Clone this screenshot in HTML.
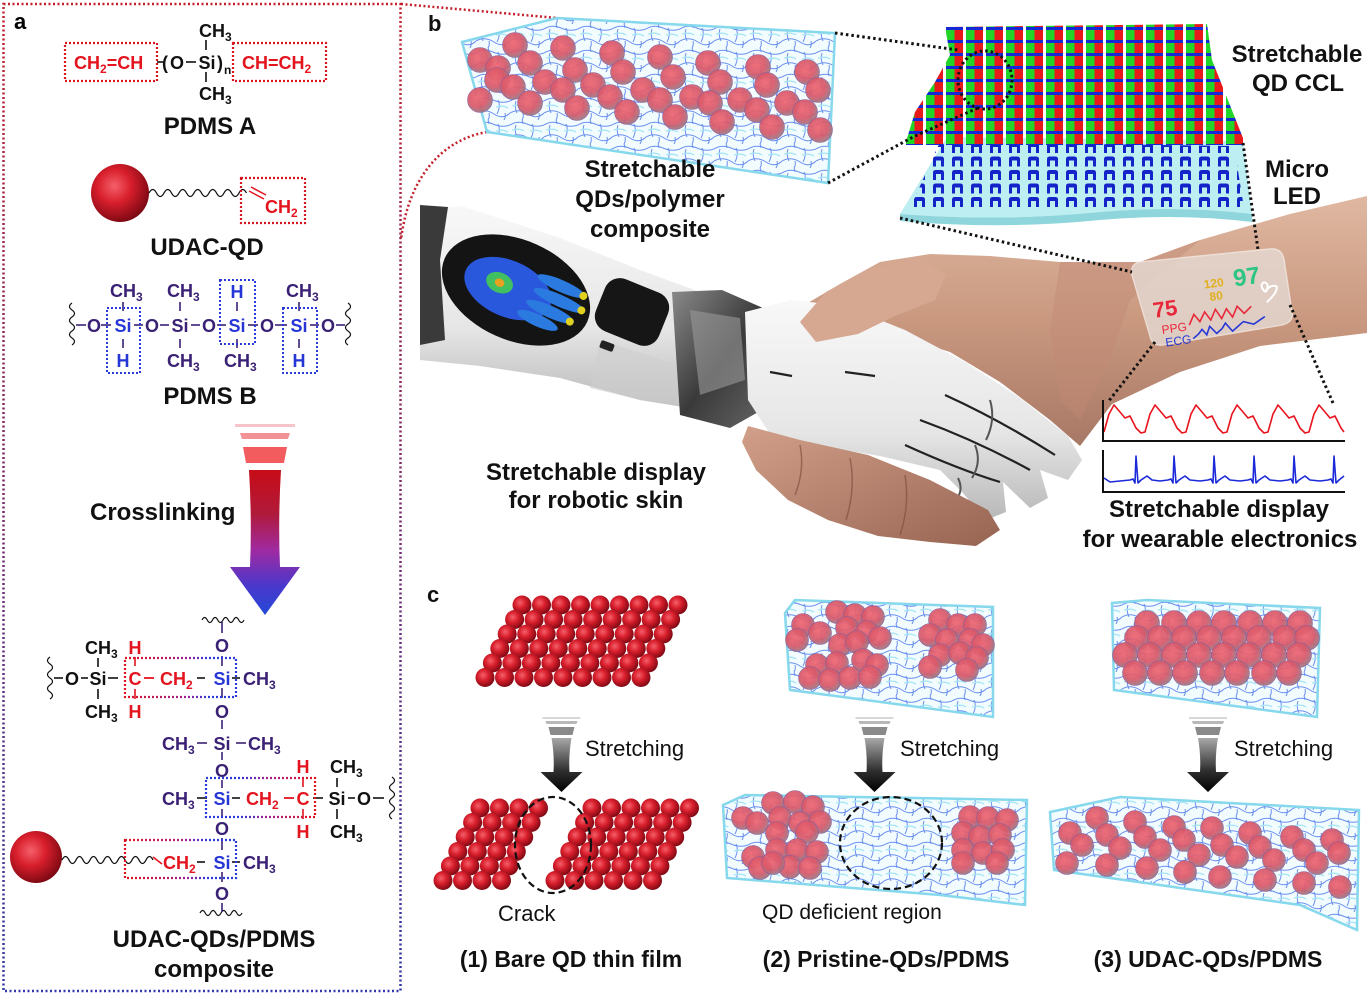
<!DOCTYPE html>
<html><head><meta charset="utf-8">
<style>
html,body{margin:0;padding:0;background:#fff;}
svg{display:block;font-family:"Liberation Sans",Arial,sans-serif;}
.b{font-weight:bold;}
</style></head>
<body>
<svg width="1367" height="995" viewBox="0 0 1367 995" xmlns="http://www.w3.org/2000/svg" xmlns:xlink="http://www.w3.org/1999/xlink">
<defs>
  <linearGradient id="borderG" gradientUnits="userSpaceOnUse" x1="0" y1="0" x2="0" y2="995">
    <stop offset="0" stop-color="#c4202c"/><stop offset="0.5" stop-color="#7a2a6a"/><stop offset="1" stop-color="#3038a8"/>
  </linearGradient>
  <radialGradient id="qd" cx="0.4" cy="0.38" r="0.65">
    <stop offset="0" stop-color="#f4606a"/><stop offset="0.45" stop-color="#d81e2c"/><stop offset="1" stop-color="#7a0812"/>
  </radialGradient>
  <radialGradient id="cq" cx="0.42" cy="0.4" r="0.62">
    <stop offset="0" stop-color="#f06672"/><stop offset="0.6" stop-color="#d9596a"/><stop offset="1" stop-color="#9a7a86"/>
  </radialGradient>
  <linearGradient id="rb" x1="0" y1="0" x2="1" y2="0">
    <stop offset="0" stop-color="#e0141e"/><stop offset="0.55" stop-color="#a02090"/><stop offset="0.75" stop-color="#2a3ad8"/><stop offset="1" stop-color="#2a3ad8"/>
  </linearGradient>
  <linearGradient id="br" x1="0" y1="0" x2="1" y2="0">
    <stop offset="0" stop-color="#2a3ad8"/><stop offset="0.3" stop-color="#2a3ad8"/><stop offset="0.55" stop-color="#a02090"/><stop offset="1" stop-color="#e0141e"/>
  </linearGradient>
  <linearGradient id="crossG" x1="0" y1="0" x2="0" y2="1">
    <stop offset="0" stop-color="#c80c18"/><stop offset="0.3" stop-color="#b01a3a"/><stop offset="0.55" stop-color="#a02aa0"/><stop offset="0.8" stop-color="#4a38cc"/><stop offset="1" stop-color="#2448d8"/>
  </linearGradient>
  <linearGradient id="grayG" x1="0" y1="0" x2="0" y2="1">
    <stop offset="0" stop-color="#a8a8a8"/><stop offset="0.6" stop-color="#303030"/><stop offset="1" stop-color="#000"/>
  </linearGradient>
  <linearGradient id="skin" x1="0" y1="0" x2="0" y2="1">
    <stop offset="0" stop-color="#e0b8a2"/><stop offset="0.5" stop-color="#c9987f"/><stop offset="1" stop-color="#a87866"/>
  </linearGradient>
  <linearGradient id="skin2" x1="0" y1="0" x2="1" y2="1">
    <stop offset="0" stop-color="#d2a08a"/><stop offset="1" stop-color="#976452"/>
  </linearGradient>
  <linearGradient id="robo" x1="0" y1="0" x2="0" y2="1">
    <stop offset="0" stop-color="#f8f8f8"/><stop offset="0.6" stop-color="#e6e6e6"/><stop offset="1" stop-color="#b8b8b8"/>
  </linearGradient>
  <linearGradient id="metal" x1="0" y1="0" x2="1" y2="1">
    <stop offset="0" stop-color="#8a8a8a"/><stop offset="0.5" stop-color="#3a3a3a"/><stop offset="1" stop-color="#6a6a6a"/>
  </linearGradient>
  <pattern id="mesh" width="34" height="24" patternUnits="userSpaceOnUse">
    <rect width="34" height="24" fill="#f2fcfe"/>
    <path d="M0,5 Q8,0 17,4 T34,5 M0,17 Q9,12 18,18 T34,17 M6,5 Q4,11 7,17 M22,4 Q25,10 21,18 M13,17 Q14,21 12,24 M29,17 Q30,21 28,24 M12,0 Q13,2 13,4" fill="none" stroke="#6a8ff0" stroke-width="1"/>
    <path d="M2,10 Q10,8 14,11 M20,11 Q27,9 32,12" stroke="#a8e6f4" stroke-width="1.4" fill="none"/>
  </pattern>
  <pattern id="ccl" width="20" height="13" patternUnits="userSpaceOnUse" x="905" y="27">
    <rect x="1" y="0" width="17" height="3" fill="#1428d8"/>
    <rect x="1" y="3" width="8.5" height="10" fill="#22d428"/>
    <rect x="9.5" y="3" width="8.5" height="10" fill="#e81a1a"/>
  </pattern>
  <pattern id="led" width="19" height="13.5" patternUnits="userSpaceOnUse" x="930" y="141">
    <path d="M3,12 L3,4.5 Q3,2 6,2 L11,2 Q14,2 14,4.5 L14,12 L11,12 L11,6 L6,6 L6,12 Z" fill="#1424c8"/>
  </pattern>
  <circle id="s9" r="9.5" fill="url(#qd)"/>
  <g id="row9"><use href="#s9" x="0"/><use href="#s9" x="19.5"/><use href="#s9" x="39"/><use href="#s9" x="58.5"/><use href="#s9" x="78"/><use href="#s9" x="97.5"/><use href="#s9" x="117"/><use href="#s9" x="136.5"/><use href="#s9" x="156"/></g>
  <g id="row6"><use href="#s9" x="0"/><use href="#s9" x="19.5"/><use href="#s9" x="39"/><use href="#s9" x="58.5"/><use href="#s9" x="78"/><use href="#s9" x="97.5"/></g>
  <g id="row4"><use href="#s9" x="0"/><use href="#s9" x="19.5"/><use href="#s9" x="39"/><use href="#s9" x="58.5"/></g>
  <circle id="c12" r="12.5" fill="url(#cq)" stroke="#8a5a9a" stroke-width="0.6" opacity="0.93"/>
  <circle id="c11" r="11.5" fill="url(#cq)" stroke="#8a5a9a" stroke-width="0.6" opacity="0.93"/>
  <g id="sarrow">
    <rect x="-19" y="0" width="38" height="2" fill="#d8d8d8"/>
    <polygon points="-16,4 16,4 15,7 -15,7" fill="#b8b8b8"/>
    <polygon points="-13,10 13,10 11,18 -11,18" fill="#8a8a8a"/>
    <path d="M-10,21 L10,21 Q7,38 8,55 L21,55 L0,75 L-21,55 L-8,55 Q-7,38 -10,21 Z" fill="url(#grayG)"/>
  </g>
</defs>

<!-- ================= PANEL A ================= -->
<rect x="3.5" y="4" width="397" height="987" fill="none" stroke="url(#borderG)" stroke-width="2.5" stroke-dasharray="2 2.5"/>
<text x="14" y="29" class="b" font-size="22">a</text>

<!-- PDMS A -->
<g font-size="18" class="b">
  <rect x="65" y="43" width="92" height="38" fill="none" stroke="#d8141e" stroke-width="2.2" stroke-dasharray="2 2"/>
  <text x="74" y="69" fill="#e3141e">CH<tspan font-size="12" dy="4">2</tspan><tspan dy="-4">=CH</tspan></text>
  <line x1="157" y1="62" x2="163" y2="62" stroke="#111" stroke-width="1.6"/>
  <text x="162" y="69" fill="#111">(</text>
  <text x="177" y="69" fill="#111" text-anchor="middle">O</text>
  <line x1="186" y1="62" x2="196" y2="62" stroke="#111" stroke-width="1.6"/>
  <text x="207" y="69" fill="#111" text-anchor="middle">Si</text>
  <text x="217" y="69" fill="#111">)</text>
  <text x="224" y="74" fill="#111" font-size="12">n</text>
  <text x="199" y="37" fill="#111">CH<tspan font-size="12" dy="4">3</tspan></text>
  <line x1="206" y1="40" x2="206" y2="50" stroke="#111" stroke-width="1.6"/>
  <line x1="206" y1="72" x2="206" y2="82" stroke="#111" stroke-width="1.6"/>
  <text x="199" y="100" fill="#111">CH<tspan font-size="12" dy="4">3</tspan></text>
  <rect x="233" y="43" width="93" height="38" fill="none" stroke="#d8141e" stroke-width="2.2" stroke-dasharray="2 2"/>
  <text x="242" y="69" fill="#e3141e">CH=CH<tspan font-size="12" dy="4">2</tspan></text>
</g>
<text x="210" y="134" class="b" font-size="24" text-anchor="middle" fill="#111">PDMS A</text>

<!-- UDAC-QD -->
<circle cx="120" cy="193" r="29" fill="url(#qd)"/>
<path d="M149,193 q3.75,-7 7.5,0 t7.5,0 t7.5,0 t7.5,0 t7.5,0 t7.5,0 t7.5,0 t7.5,0 t7.5,0 t7.5,0 t7.5,0 t7.5,0 t7.5,0" fill="none" stroke="#111" stroke-width="1.3"/>
<line x1="249" y1="191" x2="264" y2="199" stroke="#e3141e" stroke-width="1.5"/>
<line x1="251" y1="187" x2="266" y2="195" stroke="#e3141e" stroke-width="1.5"/>
<rect x="241" y="178" width="64" height="45" fill="none" stroke="#d8141e" stroke-width="2.2" stroke-dasharray="2 2"/>
<text x="265" y="213" class="b" font-size="18" fill="#e3141e">CH<tspan font-size="12" dy="4">2</tspan></text>
<text x="207" y="255" class="b" font-size="24" text-anchor="middle" fill="#111">UDAC-QD</text>

<!-- PDMS B -->
<g class="b" font-size="18">
  <path d="M72,303 q-5,3.5 0,7 t0,7 t0,7 t0,7 t0,7 t0,7" fill="none" stroke="#111" stroke-width="1.2"/>
  <path d="M348,303 q5,3.5 0,7 t0,7 t0,7 t0,7 t0,7 t0,7" fill="none" stroke="#111" stroke-width="1.2"/>
  <g stroke="#3b2175" stroke-width="1.6">
    <line x1="76" y1="325" x2="86" y2="325"/><line x1="101" y1="325" x2="111" y2="325"/>
    <line x1="134" y1="325" x2="143" y2="325"/><line x1="160" y1="325" x2="169" y2="325"/>
    <line x1="191" y1="325" x2="200" y2="325"/><line x1="217" y1="325" x2="226" y2="325"/>
    <line x1="248" y1="325" x2="258" y2="325"/><line x1="275" y1="325" x2="287" y2="325"/>
    <line x1="310" y1="325" x2="319" y2="325"/><line x1="336" y1="325" x2="345" y2="325"/>
    <line x1="123" y1="302" x2="123" y2="311"/><line x1="123" y1="339" x2="123" y2="348"/>
    <line x1="180" y1="302" x2="180" y2="311"/><line x1="180" y1="339" x2="180" y2="348"/>
    <line x1="237" y1="302" x2="237" y2="311"/><line x1="237" y1="339" x2="237" y2="348"/>
    <line x1="299" y1="302" x2="299" y2="311"/><line x1="299" y1="339" x2="299" y2="348"/>
  </g>
  <g text-anchor="middle">
    <text x="94" y="332" fill="#3b2175">O</text>
    <text x="123" y="332" fill="#2636d6">Si</text>
    <text x="152" y="332" fill="#3b2175">O</text>
    <text x="180" y="332" fill="#3b2175">Si</text>
    <text x="209" y="332" fill="#3b2175">O</text>
    <text x="237" y="332" fill="#2636d6">Si</text>
    <text x="267" y="332" fill="#3b2175">O</text>
    <text x="299" y="332" fill="#2636d6">Si</text>
    <text x="328" y="332" fill="#3b2175">O</text>
    <text x="237" y="298" fill="#2636d6">H</text>
    <text x="123" y="367" fill="#2636d6">H</text>
    <text x="299" y="367" fill="#2636d6">H</text>
  </g>
  <text x="110" y="297" fill="#3b2175">CH<tspan font-size="12" dy="4">3</tspan></text>
  <text x="167" y="297" fill="#3b2175">CH<tspan font-size="12" dy="4">3</tspan></text>
  <text x="286" y="297" fill="#3b2175">CH<tspan font-size="12" dy="4">3</tspan></text>
  <text x="167" y="367" fill="#3b2175">CH<tspan font-size="12" dy="4">3</tspan></text>
  <text x="224" y="367" fill="#3b2175">CH<tspan font-size="12" dy="4">3</tspan></text>
  <g fill="none" stroke="#2a3ad8" stroke-width="2" stroke-dasharray="2 2">
    <rect x="107" y="308" width="33" height="65"/>
    <rect x="220" y="280" width="35" height="64"/>
    <rect x="283" y="308" width="34" height="65"/>
  </g>
</g>
<text x="210" y="404" class="b" font-size="24" text-anchor="middle" fill="#111">PDMS B</text>

<!-- Crosslinking arrow -->
<g transform="translate(265,424)">
  <rect x="-30" y="0" width="60" height="3" fill="#f6c4c8"/>
  <polygon points="-25,9 25,9 23,15 -23,15" fill="#f29296"/>
  <polygon points="-22,23 22,23 19,39 -19,39" fill="#f25c5e"/>
  <path d="M-16,46 L16,46 Q13,95 15,143 L35,143 L0,191 L-35,143 L-15,143 Q-13,95 -16,46 Z" fill="url(#crossG)"/>
</g>
<text x="90" y="520" class="b" font-size="24" fill="#111">Crosslinking</text>

<!-- Crosslinked structure -->
<g class="b" font-size="18">
  <path d="M202,620 q2.6,-5 5.25,0 t5.25,0 t5.25,0 t5.25,0 t5.25,0 t5.25,0 t5.25,0 t5.25,0" fill="none" stroke="#111" stroke-width="1.2"/>
  <path d="M200,913 q2.6,-5 5.25,0 t5.25,0 t5.25,0 t5.25,0 t5.25,0 t5.25,0 t5.25,0 t5.25,0" fill="none" stroke="#111" stroke-width="1.2"/>
  <path d="M50,657 q-5,3.5 0,7 t0,7 t0,7 t0,7 t0,7 t0,7" fill="none" stroke="#111" stroke-width="1.2"/>
  <path d="M392,777 q5,3.5 0,7 t0,7 t0,7 t0,7 t0,7 t0,7" fill="none" stroke="#111" stroke-width="1.2"/>
  <g stroke="#3b2175" stroke-width="1.6">
    <line x1="222" y1="622" x2="222" y2="633"/>
    <line x1="222" y1="656" x2="222" y2="666"/>
    <line x1="222" y1="688" x2="222" y2="698"/>
    <line x1="222" y1="720" x2="222" y2="729"/>
    <line x1="222" y1="752" x2="222" y2="760"/>
    <line x1="222" y1="780" x2="222" y2="788"/>
    <line x1="222" y1="809" x2="222" y2="818"/>
    <line x1="222" y1="838" x2="222" y2="850"/>
    <line x1="222" y1="872" x2="222" y2="882"/>
    <line x1="222" y1="903" x2="222" y2="912"/>
  </g>
  <!-- row1 -->
  <g stroke="#111" stroke-width="1.6">
    <line x1="54" y1="678" x2="63" y2="678"/><line x1="81" y1="678" x2="88" y2="678"/>
    <line x1="108" y1="678" x2="118" y2="678"/><line x1="98" y1="658" x2="98" y2="667"/><line x1="98" y1="689" x2="98" y2="699"/>
    <line x1="197" y1="678" x2="205" y2="678"/><line x1="232" y1="678" x2="240" y2="678"/>
  </g>
  <line x1="144" y1="678" x2="154" y2="678" stroke="#e3141e" stroke-width="1.8"/>
  <line x1="135" y1="657" x2="135" y2="666" stroke="#e3141e" stroke-width="1.6"/>
  <line x1="135" y1="689" x2="135" y2="699" stroke="#e3141e" stroke-width="1.6"/>
  <text x="72" y="685" fill="#111" text-anchor="middle">O</text>
  <text x="98" y="685" fill="#111" text-anchor="middle">Si</text>
  <text x="85" y="654" fill="#111">CH<tspan font-size="12" dy="4">3</tspan></text>
  <text x="85" y="718" fill="#111">CH<tspan font-size="12" dy="4">3</tspan></text>
  <text x="135" y="654" fill="#e3141e" text-anchor="middle">H</text>
  <text x="135" y="718" fill="#e3141e" text-anchor="middle">H</text>
  <text x="135" y="685" fill="#e3141e" text-anchor="middle">C</text>
  <text x="160" y="685" fill="#e3141e">CH<tspan font-size="12" dy="4">2</tspan></text>
  <text x="222" y="685" fill="#2636d6" text-anchor="middle">Si</text>
  <text x="243" y="685" fill="#3b2175">CH<tspan font-size="12" dy="4">3</tspan></text>
  <rect x="125" y="658" width="111" height="39" fill="none" stroke="url(#rb)" stroke-width="2.2" stroke-dasharray="2 2"/>
  <text x="222" y="652" fill="#3b2175" text-anchor="middle">O</text>
  <text x="222" y="718" fill="#3b2175" text-anchor="middle">O</text>
  <!-- row2 -->
  <g stroke="#3b2175" stroke-width="1.6"><line x1="197" y1="743" x2="207" y2="743"/><line x1="236" y1="743" x2="246" y2="743"/></g>
  <text x="162" y="750" fill="#3b2175">CH<tspan font-size="12" dy="4">3</tspan></text>
  <text x="222" y="750" fill="#3b2175" text-anchor="middle">Si</text>
  <text x="248" y="750" fill="#3b2175">CH<tspan font-size="12" dy="4">3</tspan></text>
  <text x="222" y="777" fill="#3b2175" text-anchor="middle">O</text>
  <!-- row3 -->
  <g stroke="#111" stroke-width="1.6">
    <line x1="197" y1="798" x2="207" y2="798"/><line x1="232" y1="798" x2="240" y2="798"/>
    <line x1="313" y1="798" x2="323" y2="798"/><line x1="348" y1="798" x2="355" y2="798"/><line x1="373" y1="798" x2="384" y2="798"/>
    <line x1="337" y1="778" x2="337" y2="787"/><line x1="337" y1="809" x2="337" y2="819"/>
  </g>
  <line x1="284" y1="798" x2="294" y2="798" stroke="#e3141e" stroke-width="1.8"/>
  <line x1="303" y1="777" x2="303" y2="787" stroke="#e3141e" stroke-width="1.6"/>
  <line x1="303" y1="809" x2="303" y2="819" stroke="#e3141e" stroke-width="1.6"/>
  <text x="162" y="805" fill="#3b2175">CH<tspan font-size="12" dy="4">3</tspan></text>
  <text x="222" y="805" fill="#2636d6" text-anchor="middle">Si</text>
  <text x="246" y="805" fill="#e3141e">CH<tspan font-size="12" dy="4">2</tspan></text>
  <text x="303" y="805" fill="#e3141e" text-anchor="middle">C</text>
  <text x="303" y="773" fill="#e3141e" text-anchor="middle">H</text>
  <text x="303" y="838" fill="#e3141e" text-anchor="middle">H</text>
  <text x="337" y="805" fill="#111" text-anchor="middle">Si</text>
  <text x="364" y="805" fill="#111" text-anchor="middle">O</text>
  <text x="330" y="773" fill="#111">CH<tspan font-size="12" dy="4">3</tspan></text>
  <text x="330" y="838" fill="#111">CH<tspan font-size="12" dy="4">3</tspan></text>
  <rect x="206" y="778" width="109" height="39" fill="none" stroke="url(#br)" stroke-width="2.2" stroke-dasharray="2 2"/>
  <text x="222" y="835" fill="#3b2175" text-anchor="middle">O</text>
  <!-- row4 -->
  <circle cx="36" cy="857" r="26" fill="url(#qd)"/>
  <path d="M62,860 q3.5,-7 7,0 t7,0 t7,0 t7,0 t7,0 t7,0 t7,0 t7,0 t7,0 t7,0 t7,0 t7,0 t7,0" fill="none" stroke="#111" stroke-width="1.3"/>
  <line x1="153" y1="857" x2="162" y2="864" stroke="#e3141e" stroke-width="1.6"/>
  <g stroke="#111" stroke-width="1.6"><line x1="197" y1="862" x2="205" y2="862"/><line x1="232" y1="862" x2="240" y2="862"/></g>
  <text x="163" y="869" fill="#e3141e">CH<tspan font-size="12" dy="4">2</tspan></text>
  <text x="222" y="869" fill="#2636d6" text-anchor="middle">Si</text>
  <text x="243" y="869" fill="#3b2175">CH<tspan font-size="12" dy="4">3</tspan></text>
  <rect x="125" y="840" width="111" height="38" fill="none" stroke="url(#rb)" stroke-width="2.2" stroke-dasharray="2 2"/>
  <text x="222" y="900" fill="#3b2175" text-anchor="middle">O</text>
</g>
<text x="214" y="947" class="b" font-size="24" text-anchor="middle" fill="#111">UDAC-QDs/PDMS</text>
<text x="214" y="977" class="b" font-size="24" text-anchor="middle" fill="#111">composite</text>

<!-- ================= PANEL B ================= -->
<text x="428" y="31" class="b" font-size="22" fill="#111">b</text>
<path d="M401,4 L557,18" fill="none" stroke="#c4202c" stroke-width="2.5" stroke-dasharray="2 2.5"/>
<path d="M487,132 C440,140 408,180 401,240" fill="none" stroke="#c4202c" stroke-width="2.5" stroke-dasharray="2 2.5"/>

<!-- Photo: human arm -->
<path d="M1367,196 L1290,214 L1200,240 L1140,262 L1060,262 L990,256 L930,254 L880,262 L840,284 L806,304 L798,324 L812,336 L850,332 L900,336 L950,352 L1000,382 L1050,420 L1080,446 L1112,404 L1180,372 L1260,346 L1367,333 Z" fill="url(#skin)"/>
<path d="M1060,262 L1140,262 L1200,240 L1130,300 L1110,360 L1080,420 L1060,400 L1050,330 Z" fill="#c08a76" opacity="0.45"/>
<!-- robot forearm -->
<path d="M420,210 L462,206 L560,238 L640,270 L700,292 L702,410 L640,400 L560,378 L480,366 L420,360 Z" fill="url(#robo)"/>
<path d="M420,205 L448,207 L440,260 L445,340 L420,345 Z" fill="#3a3a3a"/>
<path d="M600,340 L700,372 L702,410 L640,400 L590,388 Z" fill="#cfcfcf" opacity="0.6"/>
<g transform="rotate(24 516 290)">
  <ellipse cx="516" cy="290" rx="78" ry="50" fill="#141414"/>
  <ellipse cx="508" cy="292" rx="46" ry="28" fill="#2a58dc"/>
  <ellipse cx="556" cy="268" rx="26" ry="6" fill="#2a7ae0"/>
  <ellipse cx="560" cy="282" rx="28" ry="6" fill="#2a7ae0"/>
  <ellipse cx="556" cy="296" rx="26" ry="6" fill="#2a7ae0"/>
  <ellipse cx="548" cy="309" rx="22" ry="6" fill="#2a7ae0"/>
  <ellipse cx="498" cy="290" rx="14" ry="10" fill="#40c060"/>
  <circle cx="580" cy="268" r="4" fill="#e0d020"/><circle cx="584" cy="282" r="4" fill="#e0d020"/><circle cx="578" cy="297" r="4" fill="#e0d020"/>
  <ellipse cx="498" cy="290" rx="5" ry="4" fill="#e8a020"/>
</g>
<g transform="rotate(22 632 312)">
  <rect x="598" y="284" width="68" height="56" rx="16" fill="#161616"/>
</g>
<rect x="600" y="342" width="14" height="8" rx="2" fill="#222" transform="rotate(20 607 346)"/>
<!-- mechanical wrist -->
<path d="M672,292 L722,290 L772,312 L776,402 L730,428 L680,415 Z" fill="url(#metal)"/>
<path d="M690,310 L740,318 L745,380 L700,395 Z" fill="#9a9a9a" opacity="0.6"/>
<!-- robot hand -->
<path d="M745,312 L792,300 L845,306 L905,330 L965,362 L1020,398 L1068,436 L1082,460 L1068,480 L1040,470 L1048,498 L1030,508 L1003,482 L1006,512 L986,520 L962,492 L940,470 L880,456 L820,446 L770,434 L748,400 Z" fill="url(#robo)"/>
<g stroke="#222" stroke-width="2.2" fill="none">
  <line x1="770" y1="372" x2="792" y2="376"/>
  <line x1="845" y1="372" x2="875" y2="376"/>
  <path d="M920,420 Q975,440 1030,470"/>
  <path d="M905,445 Q960,470 1000,482"/>
  <path d="M945,395 Q1000,420 1055,455"/>
</g>
<g stroke="#555" stroke-width="2" fill="none">
  <path d="M990,400 Q996,420 986,440"/><path d="M975,445 Q982,462 972,478"/><path d="M958,478 Q964,490 956,500"/>
</g>
<!-- human thumb -->
<path d="M800,322 L826,292 L870,268 L920,258 L946,274 L935,300 L895,316 L858,334 L816,342 Z" fill="#d6a892"/>
<!-- human fingers below -->
<path d="M748,426 L800,440 L868,455 L930,480 L988,510 L1000,530 L976,546 L930,542 L878,536 L828,520 L788,500 L756,470 L742,442 Z" fill="url(#skin2)"/>
<g stroke="#7a4a3a" stroke-width="1.5" fill="none" opacity="0.6">
  <path d="M800,445 Q805,470 795,495"/><path d="M850,458 Q856,488 846,520"/><path d="M905,475 Q910,505 900,535"/>
</g>
<!-- wrist display -->
<path d="M1140,262 L1270,249 Q1282,248 1284,260 L1292,312 Q1294,322 1282,325 L1162,345 Q1152,346 1150,336 L1132,275 Q1130,264 1140,262 Z" fill="#e6dcd6" opacity="0.78" stroke="#f4eeea" stroke-width="1.5"/>
<g transform="rotate(-8 1210 300)">
  <text x="1152" y="310" class="b" font-size="22" fill="#e8283a">75</text>
  <text x="1206" y="288" font-size="12" fill="#e0b020" class="b">120</text>
  <text x="1210" y="301" font-size="12" fill="#e0b020" class="b">80</text>
  <text x="1236" y="290" class="b" font-size="24" fill="#2ec484">97</text>
  <text x="1158" y="327" font-size="12" fill="#e8283a">PPG</text>
  <text x="1160" y="340" font-size="12" fill="#2638d8">ECG</text>
  <polyline points="1186,322 1192,312 1197,320 1203,311 1208,320 1214,310 1219,320 1225,311 1230,320 1236,310 1242,318 1250,312" fill="none" stroke="#e8283a" stroke-width="1.6"/>
  <polyline points="1188,336 1194,332 1198,328 1202,334 1206,326 1212,334 1218,330 1222,325 1228,334 1234,330 1240,326 1250,330 1262,324" fill="none" stroke="#2638d8" stroke-width="1.6"/>
  <path d="M1266,300 q-6,-8 0,-10 q6,2 0,10 q6,-8 12,-4 q0,6 -12,14" fill="none" stroke="#fff" stroke-width="2"/>
</g>

<!-- composite top -->
<polygon points="462,42 557,18 835,33 828,183 487,132" fill="url(#mesh)" stroke="#86d8ec" stroke-width="2.5"/>
<g>
<use href="#c12" x="480" y="60"/><use href="#c12" x="515" y="45"/><use href="#c12" x="563" y="48"/><use href="#c12" x="612" y="53"/><use href="#c12" x="660" y="57"/><use href="#c12" x="708" y="63"/><use href="#c12" x="758" y="67"/><use href="#c12" x="807" y="72"/>
<use href="#c12" x="498" y="68"/><use href="#c12" x="530" y="63"/><use href="#c12" x="575" y="70"/><use href="#c12" x="623" y="72"/><use href="#c12" x="673" y="77"/><use href="#c12" x="720" y="82"/><use href="#c12" x="767" y="85"/><use href="#c12" x="818" y="90"/>
<use href="#c12" x="497" y="80"/><use href="#c12" x="545" y="82"/><use href="#c12" x="593" y="85"/><use href="#c12" x="643" y="90"/><use href="#c12" x="692" y="97"/><use href="#c12" x="740" y="100"/><use href="#c12" x="787" y="103"/>
<use href="#c12" x="480" y="100"/><use href="#c12" x="513" y="87"/><use href="#c12" x="530" y="103"/><use href="#c12" x="563" y="90"/><use href="#c12" x="577" y="108"/><use href="#c12" x="610" y="97"/><use href="#c12" x="627" y="112"/><use href="#c12" x="660" y="100"/><use href="#c12" x="675" y="117"/><use href="#c12" x="710" y="103"/><use href="#c12" x="722" y="122"/><use href="#c12" x="757" y="110"/><use href="#c12" x="772" y="127"/><use href="#c12" x="805" y="112"/><use href="#c12" x="820" y="130"/>
</g>
<text x="650" y="177" class="b" font-size="24" text-anchor="middle" fill="#111">Stretchable</text>
<text x="650" y="207" class="b" font-size="24" text-anchor="middle" fill="#111">QDs/polymer</text>
<text x="650" y="237" class="b" font-size="24" text-anchor="middle" fill="#111">composite</text>

<!-- Micro LED substrate -->
<path d="M947,137 L1243,141 L1252,214 Q1180,205 1100,212 Q1000,222 900,214 Z" fill="#bdeef1"/>
<path d="M900,214 Q1000,222 1100,212 Q1180,205 1252,214 L1252,222 Q1180,213 1100,220 Q1000,230 900,221 Z" fill="#8fd6dc"/>
<polygon points="940,142 1234,146 1244,208 910,208" fill="url(#led)"/>
<!-- CCL -->
<polygon points="945,27 1207,24 1212,60 1243,138 1243,145 905,145 915,112 935,82 950,55" fill="url(#ccl)"/>

<!-- black dotted connectors -->
<g fill="none" stroke="#111" stroke-width="3" stroke-dasharray="2.5 3">
  <path d="M835,33 L958,50"/>
  <path d="M828,183 L913,137 L980,107"/>
  <ellipse cx="985" cy="80" rx="27" ry="29"/>
  <path d="M900,218 L1132,272"/>
  <path d="M1243,143 L1258,250"/>
  <path d="M1155,342 L1108,402"/>
  <path d="M1290,305 L1333,403"/>
</g>
<text x="1297" y="62" class="b" font-size="24" text-anchor="middle" fill="#111">Stretchable</text>
<text x="1298" y="91" class="b" font-size="24" text-anchor="middle" fill="#111">QD CCL</text>
<text x="1297" y="177" class="b" font-size="24" text-anchor="middle" fill="#111">Micro</text>
<text x="1297" y="204" class="b" font-size="24" text-anchor="middle" fill="#111">LED</text>

<!-- graphs -->
<polyline points="1104,432 1109,414 1114,405 1120,412 1125,418 1130,416 1136,428 1141,433 1145,432 1150,414 1155,405 1161,412 1166,418 1171,416 1177,428 1182,433 1186,432 1191,414 1196,405 1202,412 1207,418 1212,416 1218,428 1223,433 1227,432 1232,414 1237,405 1243,412 1248,418 1253,416 1259,428 1264,433 1268,432 1273,414 1278,405 1284,412 1289,418 1294,416 1300,428 1305,433 1309,432 1314,414 1319,405 1325,412 1330,418 1335,416 1341,428 1344,432" fill="none" stroke="#e8141e" stroke-width="1.6" stroke-linejoin="round"/>
<polyline points="1104,478 1110,482 1120,481 1130,480 1133,479 1135,483 1136,456 1138,483 1141,480 1147,476 1152,480 1160,481 1168,480 1171,479 1173,483 1174,456 1176,483 1179,480 1185,476 1190,480 1200,481 1208,480 1211,479 1213,483 1214,456 1216,483 1219,480 1225,476 1230,480 1240,481 1248,480 1251,479 1253,483 1254,456 1256,483 1259,480 1265,476 1270,480 1280,481 1288,480 1291,479 1293,483 1294,456 1296,483 1299,480 1305,476 1310,480 1320,481 1328,480 1331,479 1333,483 1334,456 1336,483 1339,480 1344,476" fill="none" stroke="#1a2ad8" stroke-width="1.6" stroke-linejoin="round"/>
<g stroke="#111" stroke-width="2">
  <line x1="1103" y1="400" x2="1103" y2="441"/><line x1="1102" y1="441" x2="1345" y2="441"/>
  <line x1="1103" y1="450" x2="1103" y2="492"/><line x1="1102" y1="492" x2="1345" y2="492"/>
</g>
<text x="1219" y="517" class="b" font-size="24" text-anchor="middle" fill="#111">Stretchable display</text>
<text x="1220" y="547" class="b" font-size="24" text-anchor="middle" fill="#111">for wearable electronics</text>
<text x="596" y="480" class="b" font-size="24" text-anchor="middle" fill="#111">Stretchable display</text>
<text x="596" y="508" class="b" font-size="24" text-anchor="middle" fill="#111">for robotic skin</text>

<!-- ================= PANEL C ================= -->
<text x="427" y="602" class="b" font-size="22" fill="#111">c</text>

<use href="#row9" x="522" y="605"/>
<use href="#row9" x="514.6" y="619.5"/>
<use href="#row9" x="507.2" y="634"/>
<use href="#row9" x="499.8" y="648.5"/>
<use href="#row9" x="492.4" y="663"/>
<use href="#row9" x="485" y="677.5"/>
<use href="#sarrow" x="561.5" y="717"/>
<text x="585" y="756" font-size="22" fill="#111">Stretching</text>
<use href="#row4" x="480" y="808"/>
<use href="#row4" x="472.6" y="822.5"/>
<use href="#row4" x="465.2" y="837"/>
<use href="#row4" x="457.8" y="851.5"/>
<use href="#row4" x="450.4" y="866"/>
<use href="#row4" x="443" y="880.5"/>
<use href="#row6" x="592" y="808"/>
<use href="#row6" x="584.6" y="822.5"/>
<use href="#row6" x="577.2" y="837"/>
<use href="#row6" x="569.8" y="851.5"/>
<use href="#row6" x="562.4" y="866"/>
<use href="#row6" x="555" y="880.5"/>
<ellipse cx="553" cy="845" rx="38" ry="48" fill="none" stroke="#111" stroke-width="2.2" stroke-dasharray="7 4"/>
<text x="498" y="921" font-size="22" fill="#111">Crack</text>
<text x="571" y="967" class="b" font-size="23" text-anchor="middle" fill="#111">(1) Bare QD thin film</text>

<polygon points="785,613 795,600 993,607 993,717 790,690" fill="url(#mesh)" stroke="#86d8ec" stroke-width="2.5"/>
<g>
<use href="#c11" x="803" y="625"/><use href="#c11" x="837" y="612"/><use href="#c11" x="855" y="615"/><use href="#c11" x="873" y="617"/><use href="#c11" x="820" y="633"/><use href="#c11" x="847" y="628"/><use href="#c11" x="867" y="632"/><use href="#c11" x="880" y="638"/><use href="#c11" x="797" y="640"/><use href="#c11" x="840" y="645"/><use href="#c11" x="857" y="642"/><use href="#c11" x="817" y="665"/><use href="#c11" x="837" y="663"/><use href="#c11" x="863" y="660"/><use href="#c11" x="877" y="665"/><use href="#c11" x="810" y="678"/><use href="#c11" x="830" y="680"/><use href="#c11" x="850" y="678"/><use href="#c11" x="870" y="677"/>
<use href="#c11" x="940" y="620"/><use href="#c11" x="958" y="625"/><use href="#c11" x="975" y="625"/><use href="#c11" x="930" y="635"/><use href="#c11" x="947" y="640"/><use href="#c11" x="970" y="640"/><use href="#c11" x="983" y="645"/><use href="#c11" x="940" y="655"/><use href="#c11" x="960" y="653"/><use href="#c11" x="977" y="658"/><use href="#c11" x="930" y="667"/><use href="#c11" x="967" y="670"/>
</g>
<use href="#sarrow" x="874.5" y="717"/>
<text x="900" y="756" font-size="22" fill="#111">Stretching</text>
<polygon points="723,805 745,795 1027,800 1025,905 940,895 727,878" fill="url(#mesh)" stroke="#86d8ec" stroke-width="2.5"/>
<g>
<use href="#c11" x="743" y="818"/><use href="#c11" x="773" y="803"/><use href="#c11" x="795" y="802"/><use href="#c11" x="813" y="807"/><use href="#c11" x="757" y="823"/><use href="#c11" x="780" y="818"/><use href="#c11" x="800" y="823"/><use href="#c11" x="820" y="822"/><use href="#c11" x="777" y="833"/><use href="#c11" x="807" y="832"/><use href="#c11" x="753" y="857"/><use href="#c11" x="777" y="850"/><use href="#c11" x="797" y="850"/><use href="#c11" x="817" y="852"/><use href="#c11" x="760" y="868"/><use href="#c11" x="790" y="867"/><use href="#c11" x="810" y="868"/><use href="#c11" x="773" y="863"/>
<use href="#c11" x="970" y="817"/><use href="#c11" x="988" y="818"/><use href="#c11" x="1007" y="820"/><use href="#c11" x="963" y="833"/><use href="#c11" x="980" y="837"/><use href="#c11" x="1000" y="835"/><use href="#c11" x="963" y="850"/><use href="#c11" x="983" y="853"/><use href="#c11" x="1003" y="850"/><use href="#c11" x="963" y="863"/><use href="#c11" x="997" y="863"/>
</g>
<ellipse cx="891" cy="843" rx="51" ry="46" fill="none" stroke="#111" stroke-width="2.2" stroke-dasharray="7 4"/>
<text x="762" y="919" font-size="21" fill="#111">QD deficient region</text>
<text x="886" y="967" class="b" font-size="23" text-anchor="middle" fill="#111">(2) Pristine-QDs/PDMS</text>

<polygon points="1112,603 1147,600 1320,608 1317,717 1114,690" fill="url(#mesh)" stroke="#86d8ec" stroke-width="2.5"/>
<g>
<use href="#c12" x="1147" y="623"/><use href="#c12" x="1174" y="623"/><use href="#c12" x="1199" y="623"/><use href="#c12" x="1224" y="623"/><use href="#c12" x="1250" y="623"/><use href="#c12" x="1275" y="623"/><use href="#c12" x="1300" y="623"/>
<use href="#c12" x="1137" y="638"/><use href="#c12" x="1160" y="638"/><use href="#c12" x="1184" y="638"/><use href="#c12" x="1209" y="638"/><use href="#c12" x="1234" y="638"/><use href="#c12" x="1259" y="638"/><use href="#c12" x="1285" y="638"/><use href="#c12" x="1307" y="638"/>
<use href="#c12" x="1125" y="655"/><use href="#c12" x="1150" y="655"/><use href="#c12" x="1174" y="655"/><use href="#c12" x="1199" y="655"/><use href="#c12" x="1224" y="655"/><use href="#c12" x="1249" y="655"/><use href="#c12" x="1274" y="655"/><use href="#c12" x="1299" y="655"/>
<use href="#c12" x="1135" y="673"/><use href="#c12" x="1160" y="673"/><use href="#c12" x="1185" y="673"/><use href="#c12" x="1212" y="673"/><use href="#c12" x="1237" y="673"/><use href="#c12" x="1264" y="673"/><use href="#c12" x="1289" y="673"/>
</g>
<use href="#sarrow" x="1208" y="717"/>
<text x="1234" y="756" font-size="22" fill="#111">Stretching</text>
<polygon points="1050,812 1120,797 1359,810 1357,930 1300,905 1054,870" fill="url(#mesh)" stroke="#86d8ec" stroke-width="2.5"/>
<g>
<use href="#c11" x="1070" y="833"/><use href="#c11" x="1097" y="818"/><use href="#c11" x="1135" y="822"/><use href="#c11" x="1174" y="827"/><use href="#c11" x="1212" y="828"/><use href="#c11" x="1250" y="833"/><use href="#c11" x="1292" y="837"/><use href="#c11" x="1332" y="840"/>
<use href="#c11" x="1082" y="845"/><use href="#c11" x="1107" y="835"/><use href="#c11" x="1145" y="837"/><use href="#c11" x="1184" y="840"/><use href="#c11" x="1222" y="845"/><use href="#c11" x="1260" y="847"/><use href="#c11" x="1304" y="850"/><use href="#c11" x="1339" y="853"/>
<use href="#c11" x="1067" y="863"/><use href="#c11" x="1120" y="848"/><use href="#c11" x="1160" y="850"/><use href="#c11" x="1199" y="855"/><use href="#c11" x="1237" y="857"/><use href="#c11" x="1274" y="860"/><use href="#c11" x="1317" y="863"/>
<use href="#c11" x="1107" y="865"/><use href="#c11" x="1147" y="868"/><use href="#c11" x="1185" y="872"/><use href="#c11" x="1220" y="877"/><use href="#c11" x="1265" y="880"/><use href="#c11" x="1304" y="883"/><use href="#c11" x="1340" y="887"/>
</g>
<text x="1208" y="967" class="b" font-size="23" text-anchor="middle" fill="#111">(3) UDAC-QDs/PDMS</text>
</svg>
</body></html>
